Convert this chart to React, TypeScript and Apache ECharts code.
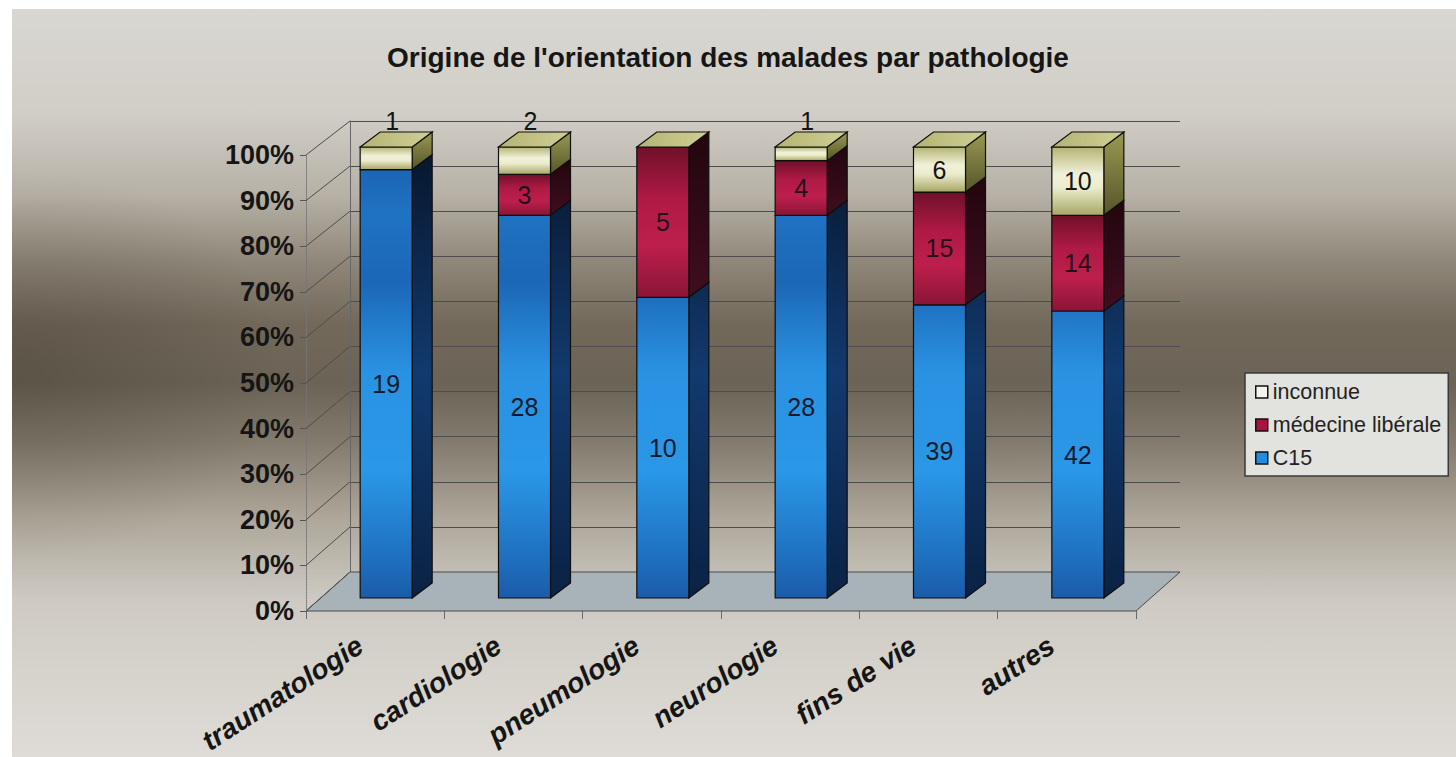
import React, { useEffect, useRef } from "react";
import * as echarts from "echarts";

// ---------- data ----------
const chartTitle = "Origine de l'orientation des malades par pathologie";
const categories = ["traumatologie", "cardiologie", "pneumologie", "neurologie", "fins de vie", "autres"];
const c15Values = [19, 28, 10, 28, 39, 42];
const liberaleValues = [0, 3, 5, 4, 15, 14];
const inconnueValues = [1, 2, 0, 1, 6, 10];
const seriesNames = ["C15", "médecine libérale", "inconnue"];
const yTicks = [0, 10, 20, 30, 40, 50, 60, 70, 80, 90, 100];
const legendOrder = ["inconnue", "médecine libérale", "C15"];

// ---------- layout (planes of the oblique 3D box) ----------
const BACK = { left: 350, top: 121, width: 830, height: 451 };
const FRONT = { left: 306, top: 155, width: 830, height: 456 };
const BAR = { left: 317, top: 147, width: 830, height: 451 };
const DX = 20;
const DY = -15;
const BAR_RATIO = 0.376;
const STROKE = "#0e0e0e";

const LG = echarts.graphic.LinearGradient;

const styles = [
  {
    front: new LG(0, BAR.top, 0, BAR.top + BAR.height, [
      { offset: 0, color: "#1a5fae" },
      { offset: 0.15, color: "#1f72c2" },
      { offset: 0.3, color: "#1c67b7" },
      { offset: 0.5, color: "#2a92e2" },
      { offset: 0.72, color: "#2b97e7" },
      { offset: 0.9, color: "#1f72c2" },
      { offset: 1, color: "#1a5ca8" },
    ], true),
    side: new LG(0, BAR.top, 0, BAR.top + BAR.height, [
      { offset: 0, color: "#07162c" },
      { offset: 0.5, color: "#123a6e" },
      { offset: 1, color: "#0a2244" },
    ], true),
    label: "#111a2e",
    legend: "#1e8ee0",
  },
  {
    front: new LG(0, 0, 0, 1, [
      { offset: 0, color: "#701029" },
      { offset: 0.35, color: "#b01a45" },
      { offset: 0.65, color: "#bd1f4c" },
      { offset: 1, color: "#8a1536" },
    ]),
    side: new LG(0, 0, 0, 1, [
      { offset: 0, color: "#22060e" },
      { offset: 1, color: "#400d1f" },
    ]),
    label: "#24101a",
    legend: "#a8123c",
  },
  {
    front: new LG(0, 0, 0, 1, [
      { offset: 0, color: "#b4b474" },
      { offset: 0.4, color: "#f1f1da" },
      { offset: 0.6, color: "#ececcc" },
      { offset: 1, color: "#a6a664" },
    ]),
    side: new LG(0, 0, 0, 1, [
      { offset: 0, color: "#9a9a52" },
      { offset: 1, color: "#55552a" },
    ]),
    top: new LG(0, 0, 1, 0, [
      { offset: 0, color: "#b3b372" },
      { offset: 1, color: "#d0d096" },
    ]),
    label: "#141414",
    legend: "#f4f4ec",
  },
];

const stacks = [c15Values, liberaleValues, inconnueValues];
const totals = categories.map((_, i) => stacks.reduce((s, arr) => s + arr[i], 0));

function segmentData(k: number) {
  return categories.map((_, i) => {
    let start = 0;
    for (let j = 0; j < k; j++) start += stacks[j][i];
    const end = start + stacks[k][i];
    return [i, (start / totals[i]) * 100, (end / totals[i]) * 100, stacks[k][i]];
  });
}

function barRenderer(k: number) {
  const st: any = styles[k];
  const isTop = k === stacks.length - 1;
  return (params: any, api: any) => {
    const i = api.value(0);
    const s = api.value(1);
    const e = api.value(2);
    const v = api.value(3);
    const pb = api.coord([i, s]);
    const pt = api.coord([i, e]);
    const w = api.size([1, 0])[0] * BAR_RATIO;
    const x0 = pb[0] - w / 2;
    const x1 = pb[0] + w / 2;
    const yb = pb[1];
    const yt = pt[1];
    const children: any[] = [];
    if (yb - yt > 0.01) {
      children.push({
        type: "polygon",
        shape: { points: [[x1, yt], [x1 + DX, yt + DY], [x1 + DX, yb + DY], [x1, yb]] },
        style: { fill: st.side, stroke: STROKE, lineWidth: 1.2 },
      });
      children.push({
        type: "rect",
        shape: { x: x0, y: yt, width: w, height: yb - yt },
        style: { fill: st.front, stroke: STROKE, lineWidth: 1.2 },
      });
    }
    if (isTop) {
      children.push({
        type: "polygon",
        shape: { points: [[x0, yt], [x0 + DX, yt + DY], [x1 + DX, yt + DY], [x1, yt]] },
        style: { fill: st.top, stroke: STROKE, lineWidth: 1.2 },
      });
    }
    if (v > 0) {
      const inside = e - s >= 8;
      const lx = inside ? pb[0] : pb[0] + 6;
      const ly = inside ? (yt + yb) / 2 : yt - 26;
      children.push({
        type: "text",
        style: {
          text: String(v),
          x: lx,
          y: ly,
          fill: st.label,
          fontSize: 25,
          fontFamily: "Liberation Sans, Arial, sans-serif",
          align: "center",
          textAlign: "center",
          verticalAlign: "middle",
          textVerticalAlign: "middle",
        },
      });
    }
    return { type: "group", children };
  };
}

function floorRenderer(params: any, api: any) {
  const cw = api.size([1, 0])[0];
  const bl = api.coord([0, 0]);
  const br = api.coord([categories.length - 1, 0]);
  const xL = bl[0] - cw / 2;
  const xR = br[0] + cw / 2;
  const y = bl[1];
  const fy = FRONT.top + FRONT.height;
  return {
    type: "polygon",
    shape: { points: [[xL, y], [xR, y], [FRONT.left + FRONT.width, fy], [FRONT.left, fy]] },
    style: { fill: "#a8b2b9", stroke: "#4a4a4a", lineWidth: 1 },
  };
}

function diagRenderer(params: any, api: any) {
  const v = api.value(1);
  const cw = api.size([1, 0])[0];
  const p = api.coord([0, v]);
  const xL = p[0] - cw / 2;
  const fy = FRONT.top + FRONT.height * (1 - v / 100);
  return {
    type: "line",
    shape: { x1: xL, y1: p[1], x2: FRONT.left, y2: fy },
    style: { stroke: "#4d4d4d", lineWidth: 1 },
  };
}

export default function App() {
  const ref = useRef<HTMLDivElement>(null);
  useEffect(() => {
    if (!ref.current) return;
    const chart = echarts.init(ref.current, null, { renderer: "svg" });
    const font = "Liberation Sans, Arial, sans-serif";
    const barSeries = stacks.map((_, k) => ({
      type: "custom",
      name: seriesNames[k],
      xAxisIndex: 0,
      yAxisIndex: 0,
      z: 5 + k,
      clip: false,
      itemStyle: { color: styles[k].legend, borderColor: "#111", borderWidth: 1.5 },
      renderItem: barRenderer(k),
      data: segmentData(k),
    }));
    const option: any = {
      animation: false,
      backgroundColor: "#ffffff",
      title: {
        text: chartTitle,
        left: "center",
        top: 38,
        textStyle: { fontFamily: font, fontWeight: "bold", fontSize: 28, color: "#161616" },
      },
      graphic: [
        {
          type: "rect",
          z: -100,
          silent: true,
          shape: { x: 12, y: 9, width: 1444, height: 748 },
          style: {
            fill: new LG(0, 0, 0, 1, [
              { offset: 0, color: "#d9d7d2" },
              { offset: 0.14, color: "#d1cec7" },
              { offset: 0.25, color: "#b6b0a5" },
              { offset: 0.34, color: "#8e8678" },
              { offset: 0.42, color: "#72695b" },
              { offset: 0.5, color: "#6b6355" },
              { offset: 0.58, color: "#837b6d" },
              { offset: 0.68, color: "#ada699" },
              { offset: 0.79, color: "#ceCAc3" },
              { offset: 1, color: "#dfdcd7" },
            ]),
          },
        },
        {
          type: "rect",
          z: -99,
          silent: true,
          shape: { x: 12, y: 170, width: 520, height: 390 },
          style: {
            fill: new echarts.graphic.RadialGradient(0.02, 0.5, 0.5, [
              { offset: 0, color: "rgba(35,28,18,0.22)" },
              { offset: 1, color: "rgba(35,28,18,0)" },
            ]),
          },
        },
      ],
      legend: {
        orient: "vertical",
        left: 1245,
        top: 373,
        icon: "rect",
        itemWidth: 12,
        itemHeight: 12,
        itemGap: 11,
        padding: [8, 7, 7, 10],
        backgroundColor: "#e2e2de",
        borderColor: "#3a3a3a",
        borderWidth: 1.5,
        textStyle: { fontFamily: font, fontSize: 21.5, color: "#222" },
        data: legendOrder.map((n) => {
          const k = seriesNames.indexOf(n);
          return { name: n, itemStyle: { color: styles[k].legend, borderColor: "#111", borderWidth: 1.5 } };
        }),
      },
      grid: [
        { ...BAR, containLabel: false },
        { ...FRONT, containLabel: false },
        { ...BACK, containLabel: false },
      ],
      xAxis: [
        { gridIndex: 0, type: "category", data: categories, show: false },
        {
          gridIndex: 1,
          type: "category",
          data: categories,
          axisLine: { show: false },
          axisTick: { show: true, length: 8, lineStyle: { color: "#6a6a6a" } },
          axisLabel: {
            rotate: 33,
            margin: 22,
            padding: [0, 18, 0, 0],
            fontSize: 28,
            fontWeight: "bold",
            fontStyle: "italic",
            fontFamily: font,
            color: "#151515",
          },
        },
        { gridIndex: 2, type: "category", data: categories, show: false },
      ],
      yAxis: [
        { gridIndex: 0, type: "value", min: 0, max: 100, show: false },
        {
          gridIndex: 1,
          type: "value",
          min: 0,
          max: 100,
          interval: 10,
          axisLine: { show: true, lineStyle: { color: "#777", type: "dotted" } },
          axisTick: { show: true, length: 6, lineStyle: { color: "#555" } },
          axisLabel: { formatter: "{value}%", margin: 12, fontSize: 27, fontWeight: "bold", fontFamily: font, color: "#151515" },
          splitLine: { show: false },
        },
        {
          gridIndex: 2,
          type: "value",
          min: 0,
          max: 100,
          interval: 10,
          axisLine: { show: true, lineStyle: { color: "#666" } },
          axisTick: { show: false },
          axisLabel: { show: false },
          splitLine: { show: true, lineStyle: { color: "#4d4d4d", width: 1 } },
        },
      ],
      series: [
        {
          type: "custom",
          name: "floor",
          xAxisIndex: 2,
          yAxisIndex: 2,
          z: 1,
          clip: false,
          silent: true,
          renderItem: floorRenderer,
          data: [[0, 0]],
        },
        {
          type: "custom",
          name: "walls",
          xAxisIndex: 2,
          yAxisIndex: 2,
          z: 1,
          clip: false,
          silent: true,
          renderItem: diagRenderer,
          data: yTicks.map((t) => [0, t]),
        },
        ...barSeries,
      ],
    };
    chart.setOption(option);
    return () => chart.dispose();
  }, []);
  return <div ref={ref} style={{ position: "fixed", left: 0, top: 0, width: 1456, height: 757 }} />;
}
